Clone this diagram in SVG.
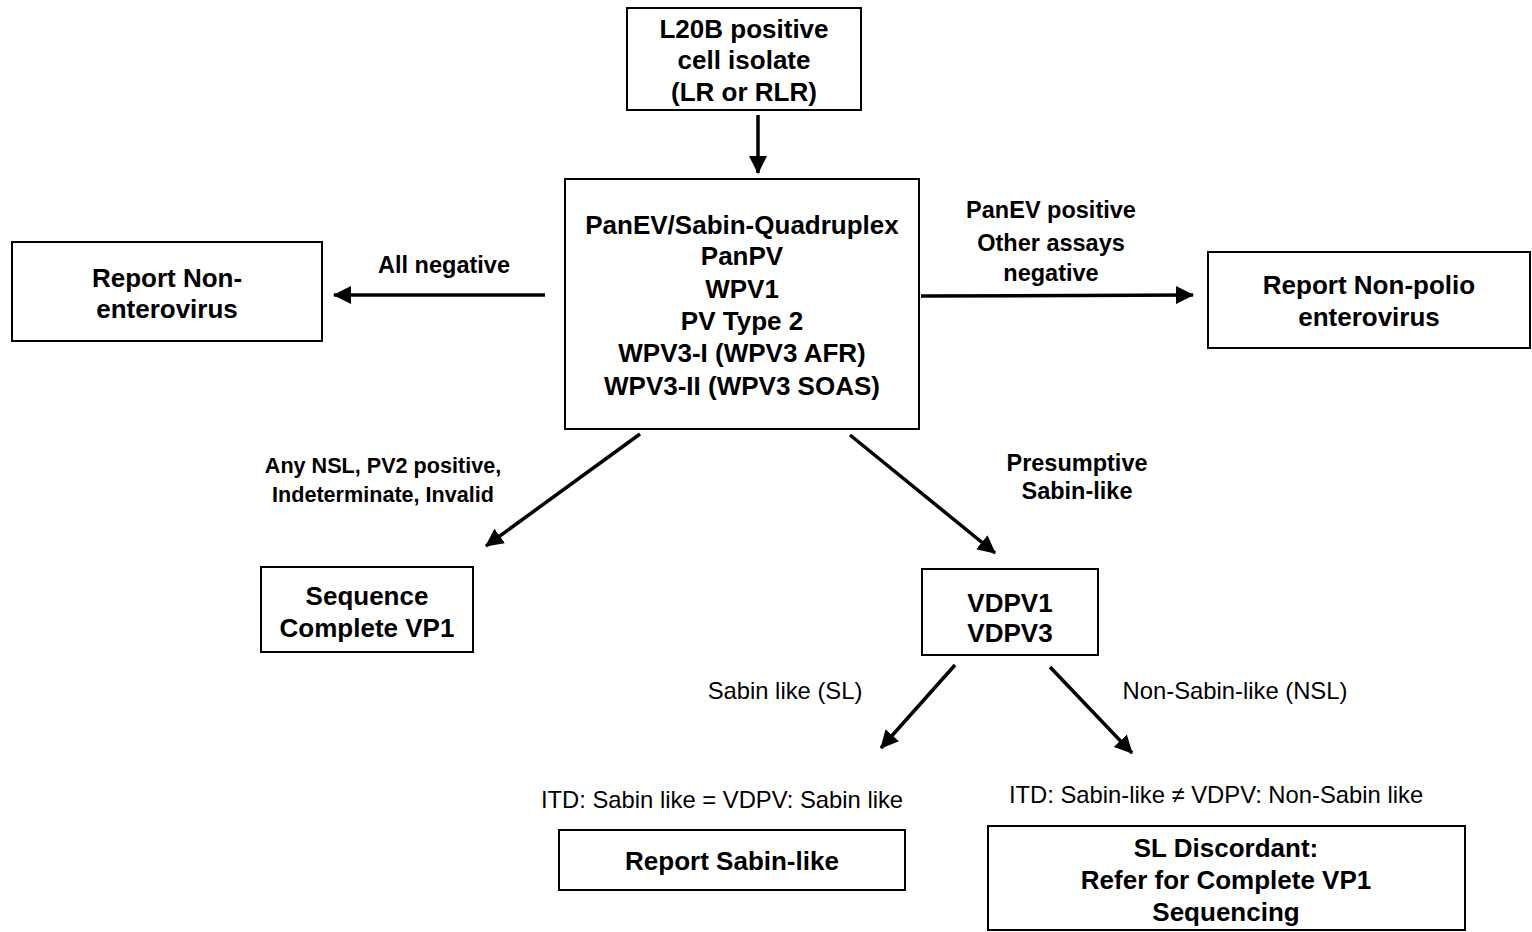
<svg xmlns="http://www.w3.org/2000/svg" width="1532" height="932" viewBox="0 0 1532 932">
<defs>
<style>
.box{fill:#fff;stroke:#000;stroke-width:2}
.bt{font-family:"Liberation Sans",Arial,sans-serif;font-weight:bold;font-size:26px;text-anchor:middle;fill:#000}
.lb{font-family:"Liberation Sans",Arial,sans-serif;font-weight:bold;font-size:23.5px;text-anchor:middle;fill:#000}
.ls{font-family:"Liberation Sans",Arial,sans-serif;font-weight:bold;font-size:21.6px;text-anchor:middle;fill:#000}
.lr{font-family:"Liberation Sans",Arial,sans-serif;font-size:23.8px;text-anchor:middle;fill:#000}
.cn{stroke:#000;stroke-width:3.5;fill:none;marker-end:url(#ah)}
</style>
<marker id="ah" markerUnits="userSpaceOnUse" markerWidth="19" markerHeight="18" refX="17" refY="9" orient="auto">
<path d="M0,0 L18,9 L0,18 z" fill="#000"/>
</marker>
</defs>
<rect width="1532" height="932" fill="#fff"/>
<g id="connectors">
<line class="cn" x1="758" y1="115" x2="758" y2="173"/>
<line class="cn" x1="545" y1="295" x2="334" y2="295"/>
<line class="cn" x1="921" y1="296" x2="1193" y2="295"/>
<line class="cn" x1="640" y1="434" x2="486" y2="546"/>
<line class="cn" x1="850" y1="435" x2="995" y2="553"/>
<line class="cn" x1="955" y1="665" x2="881" y2="748"/>
<line class="cn" x1="1050" y1="667" x2="1132" y2="753"/>
</g>
<g id="labels">
<text class="lb" x="444" y="273">All negative</text>
<text class="lb" x="1051" y="218">PanEV positive</text>
<text class="lb" x="1051" y="251">Other assays</text>
<text class="lb" x="1051" y="281">negative</text>
<text class="ls" x="383" y="473">Any NSL, PV2 positive,</text>
<text class="ls" x="383" y="502">Indeterminate, Invalid</text>
<text class="lb" x="1077" y="471">Presumptive</text>
<text class="lb" x="1077" y="499">Sabin-like</text>
<text class="lr" x="785" y="699">Sabin like (SL)</text>
<text class="lr" x="1235" y="699">Non-Sabin-like (NSL)</text>
<text class="lr" x="722" y="808">ITD: Sabin like = VDPV: Sabin like</text>
<text class="lr" x="1216" y="803">ITD: Sabin-like ≠ VDPV: Non-Sabin like</text>
</g>
<g id="n-l20b">
<rect class="box" x="627" y="8" width="234" height="102"/>
<text class="bt" x="744" y="38">L20B positive</text>
<text class="bt" x="744" y="69">cell isolate</text>
<text class="bt" x="744" y="101">(LR or RLR)</text>
</g>
<g id="n-assays">
<rect class="box" x="565" y="179" width="354" height="250"/>
<text class="bt" x="742" y="234">PanEV/Sabin-Quadruplex</text>
<text class="bt" x="742" y="265">PanPV</text>
<text class="bt" x="742" y="298">WPV1</text>
<text class="bt" x="742" y="330">PV Type 2</text>
<text class="bt" x="742" y="362">WPV3-I (WPV3 AFR)</text>
<text class="bt" x="742" y="395">WPV3-II (WPV3 SOAS)</text>
</g>
<g id="n-nonev">
<rect class="box" x="12" y="242" width="310" height="99"/>
<text class="bt" x="167" y="287">Report Non-</text>
<text class="bt" x="167" y="318">enterovirus</text>
</g>
<g id="n-npev">
<rect class="box" x="1208" y="252" width="322" height="96"/>
<text class="bt" x="1369" y="294">Report Non-polio</text>
<text class="bt" x="1369" y="326">enterovirus</text>
</g>
<g id="n-seq">
<rect class="box" x="261" y="567" width="212" height="85"/>
<text class="bt" x="367" y="605">Sequence</text>
<text class="bt" x="367" y="637">Complete VP1</text>
</g>
<g id="n-vdpv">
<rect class="box" x="922" y="569" width="176" height="86"/>
<text class="bt" x="1010" y="612">VDPV1</text>
<text class="bt" x="1010" y="642">VDPV3</text>
</g>
<g id="n-sl">
<rect class="box" x="559" y="830" width="346" height="60"/>
<text class="bt" x="732" y="870">Report Sabin-like</text>
</g>
<g id="n-disc">
<rect class="box" x="988" y="826" width="477" height="104"/>
<text class="bt" x="1226" y="857">SL Discordant:</text>
<text class="bt" x="1226" y="889">Refer for Complete VP1</text>
<text class="bt" x="1226" y="921">Sequencing</text>
</g>
</svg>
